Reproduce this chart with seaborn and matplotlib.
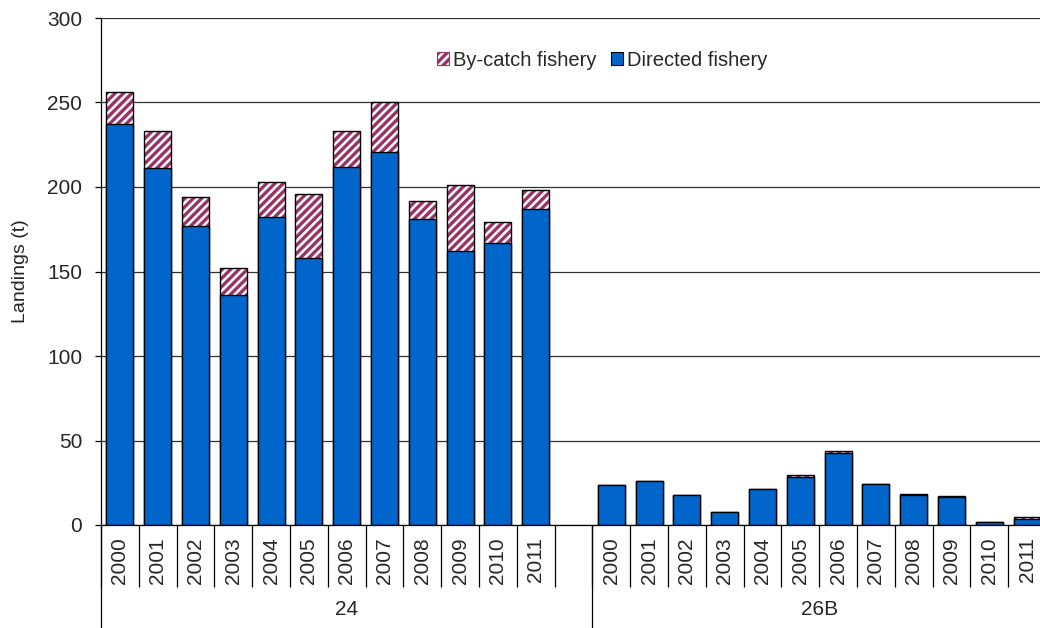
import pandas as pd
import matplotlib
matplotlib.use("Agg")
import matplotlib.pyplot as plt
from matplotlib.patches import Patch
import seaborn as sns

# data
years = ["2000", "2001", "2002", "2003", "2004", "2005",
         "2006", "2007", "2008", "2009", "2010", "2011"]
areas = ["24", "26B"]
directed_24 = [237, 211, 177, 136, 182, 158, 212, 221, 181, 162, 167, 187]
bycatch_24 = [19, 22, 17, 16, 21, 38, 21, 29, 11, 39, 12, 11]
directed_26b = [23.4, 25.8, 17.9, 7.5, 21.5, 28.5, 42.5, 24.2, 17.5, 16.3, 1.5, 3.7]
bycatch_26b = [0, 0, 0, 0, 0, 1.0, 1.0, 0, 1.0, 1.0, 0.5, 1.0]

BLUE = "#0066CC"
MAROON = "#993366"

rows = []
for area, dirs, bys in [("24", directed_24, bycatch_24), ("26B", directed_26b, bycatch_26b)]:
    for yr, d, b in zip(years, dirs, bys):
        rows.append({"slot": f"{area}|{yr}", "area": area, "year": yr,
                     "directed": d, "total": d + b})
df = pd.DataFrame(rows)

# 13 slots for area 24 (12 years + empty gap) then 12 for 26B
order = [f"24|{y}" for y in years] + ["gap"] + [f"26B|{y}" for y in years]
labels = years + [""] + years

sns.set_style("white")
plt.rcParams["font.family"] = ["Liberation Sans", "DejaVu Sans"]
plt.rcParams["hatch.linewidth"] = 2.4

fig = plt.figure(figsize=(10.4, 6.28), dpi=100)
# axes run past the right border, like the cropped original
ax = fig.add_axes([101 / 1040, 103 / 628, 945 / 1040, 507 / 628])

bw = 0.71
# hatched totals (by-catch shows above the directed part)
sns.barplot(data=df, x="slot", y="total", order=order, color="white", saturation=1,
            edgecolor=MAROON, hatch="////", linewidth=0, width=bw, errorbar=None, ax=ax)
sns.barplot(data=df, x="slot", y="total", order=order, color="black", fill=False,
            linewidth=1.0, width=bw, errorbar=None, ax=ax)
sns.barplot(data=df, x="slot", y="directed", order=order, color=BLUE, saturation=1,
            edgecolor="black", linewidth=1.0, width=bw, errorbar=None, ax=ax)

ax.set_ylim(0, 300)
ax.set_xlim(-0.5, len(order) - 0.5)
ax.set_yticks(range(0, 301, 50))
ax.yaxis.grid(True, color="#303030", linewidth=0.9)
ax.set_axisbelow(True)
for s in ["top", "right"]:
    ax.spines[s].set_visible(False)
ax.spines["left"].set_color("black")
ax.spines["bottom"].set_color("black")
ax.spines["left"].set_linewidth(0.9)
ax.spines["bottom"].set_linewidth(0.9)

ax.tick_params(axis="y", direction="out", length=4.5, width=0.9, color="black",
               left=True, labelsize=15, pad=9)
ax.set_xticks(range(len(order)))
ax.set_xticklabels(labels, rotation=90, fontsize=15)
ax.tick_params(axis="x", which="major", length=0, pad=9)
# category divider ticks
ax.set_xticks([i - 0.5 for i in range(len(order) + 1)], minor=True)
ax.tick_params(axis="x", which="minor", direction="out", length=44.5, width=0.9,
               color="black", bottom=True)

ax.set_xlabel("")
ax.set_ylabel("Landings (t)", fontsize=14)
ax.yaxis.set_label_coords(-72 / 945, 0.5)

# group divider lines and labels
tr = ax.get_xaxis_transform()
for xpos in [-0.5, 12.5, 24.5]:
    ax.plot([xpos, xpos], [0, -0.205], transform=tr, color="black",
            linewidth=0.9, clip_on=False)
ax.text(6, -0.166, areas[0], transform=tr, ha="center", va="center", fontsize=15)
ax.text(18.5, -0.166, areas[1], transform=tr, ha="center", va="center", fontsize=15)

handles = [Patch(facecolor="white", edgecolor=MAROON, hatch="////", linewidth=0.8),
           Patch(facecolor=BLUE, edgecolor="black", linewidth=0.8)]
fig.legend(handles, ["By-catch fishery", "Directed fishery"], loc="center",
           bbox_to_anchor=(0.579, 0.904), ncol=2, frameon=False, fontsize=14.5,
           handlelength=0.6, handleheight=0.6, handletextpad=0.2, columnspacing=0.7)

fig.savefig("out.png", dpi=100)
